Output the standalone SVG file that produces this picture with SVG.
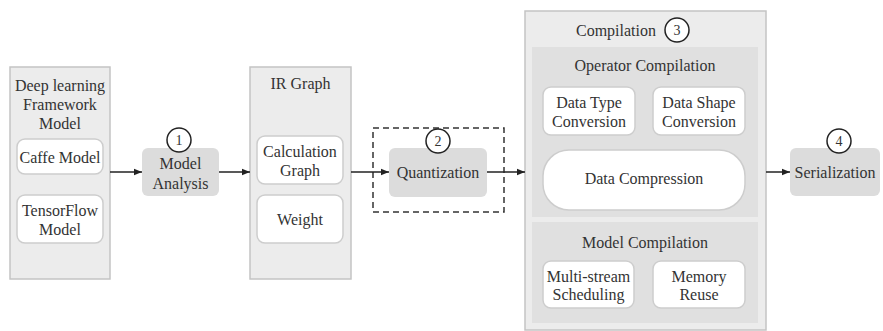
<svg xmlns="http://www.w3.org/2000/svg" width="883" height="331" viewBox="0 0 883 331">
<defs>
<marker id="ah" viewBox="0 0 10 10" refX="10" refY="5" markerWidth="10" markerHeight="8" markerUnits="userSpaceOnUse" orient="auto">
<path d="M0,1 L10,5 L0,9 Z" fill="#222"/>
</marker>
</defs>
<style>
text{font-family:Liberation Serif,DejaVu Serif,Noto Serif,Times,serif;font-size:16px;fill:#333;text-anchor:middle;dominant-baseline:central}
.outer{fill:#ececec;stroke:#c4c4c4;stroke-width:1.5}
.inner{fill:#e0e0e0;stroke:none}
.white{fill:#fff;stroke:#cdcdcd;stroke-width:1.5}
.step{fill:#dcdcdc;stroke:none}
.num{fill:#fff;stroke:#222;stroke-width:1.5}
.conn{stroke:#222;stroke-width:1.5;fill:none;marker-end:url(#ah)}
</style>
<rect width="883" height="331" fill="#fff"/>
<g id="framework">
<rect class="outer" x="10" y="67" width="100" height="212"/>
<text x="60" y="85">Deep learning</text>
<text x="60" y="104">Framework</text>
<text x="60" y="123">Model</text>
<g id="caffe"><rect class="white" x="17" y="139" width="86" height="35" rx="8"/><text x="60" y="157">Caffe Model</text></g>
<g id="tensorflow"><rect class="white" x="17" y="195" width="86" height="48" rx="8"/><text x="60" y="210">TensorFlow</text><text x="60" y="229">Model</text></g>
</g>
<g id="model-analysis">
<rect class="step" x="142" y="148" width="77" height="48" rx="6"/>
<text x="180.5" y="163">Model</text>
<text x="180.5" y="183">Analysis</text>
<circle class="num" cx="179" cy="140" r="12"/>
<text x="179" y="140" style="font-size:14px">1</text>
</g>
<g id="ir-graph">
<rect class="outer" x="250" y="67" width="101" height="212"/>
<text x="300.5" y="83">IR Graph</text>
<g id="calc-graph"><rect class="white" x="257" y="136" width="86" height="48" rx="8"/><text x="300" y="151">Calculation</text><text x="300" y="170">Graph</text></g>
<g id="weight"><rect class="white" x="257" y="195" width="86" height="48" rx="8"/><text x="300" y="219">Weight</text></g>
</g>
<g id="quantization">
<rect x="373" y="128" width="131" height="84" fill="none" stroke="#333" stroke-width="1.5" stroke-dasharray="6,4"/>
<rect class="step" x="389" y="148" width="98" height="49" rx="6"/>
<text x="438" y="172">Quantization</text>
<circle class="num" cx="438" cy="141" r="12"/>
<text x="438" y="141" style="font-size:14px">2</text>
</g>
<g id="compilation">
<rect class="outer" x="525" y="11" width="241" height="319"/>
<text x="616" y="30">Compilation</text>
<circle class="num" cx="677" cy="30" r="12"/>
<text x="677" y="30" style="font-size:14px">3</text>
<g id="operator-compilation">
<rect class="inner" x="532" y="47" width="226" height="170"/>
<text x="645" y="65">Operator Compilation</text>
<g id="data-type"><rect class="white" x="543" y="87" width="92" height="48" rx="8"/><text x="589" y="102">Data Type</text><text x="589" y="121">Conversion</text></g>
<g id="data-shape"><rect class="white" x="653" y="87" width="92" height="48" rx="8"/><text x="699" y="102">Data Shape</text><text x="699" y="121">Conversion</text></g>
<g id="data-compression"><rect class="white" x="543" y="150" width="202" height="60" rx="26"/><text x="644" y="178">Data Compression</text></g>
</g>
<g id="model-compilation">
<rect class="inner" x="532" y="222" width="226" height="101"/>
<text x="645" y="242">Model Compilation</text>
<g id="multi-stream"><rect class="white" x="543" y="261" width="91" height="47" rx="8"/><text x="588.5" y="276">Multi-stream</text><text x="588.5" y="294">Scheduling</text></g>
<g id="memory-reuse"><rect class="white" x="653" y="261" width="92" height="47" rx="8"/><text x="699" y="276">Memory</text><text x="699" y="294">Reuse</text></g>
</g>
</g>
<g id="serialization">
<rect class="step" x="790" y="148" width="90" height="48" rx="6"/>
<text x="835" y="172">Serialization</text>
<circle class="num" cx="839" cy="141" r="12"/>
<text x="839" y="141" style="font-size:14px">4</text>
</g>
<g id="connectors">
<line class="conn" x1="110" y1="172" x2="142" y2="172"/>
<line class="conn" x1="219" y1="172" x2="250" y2="172"/>
<line class="conn" x1="351" y1="172" x2="389" y2="172"/>
<line class="conn" x1="487" y1="172" x2="525" y2="172"/>
<line class="conn" x1="766" y1="172" x2="790" y2="172"/>
</g>
</svg>
